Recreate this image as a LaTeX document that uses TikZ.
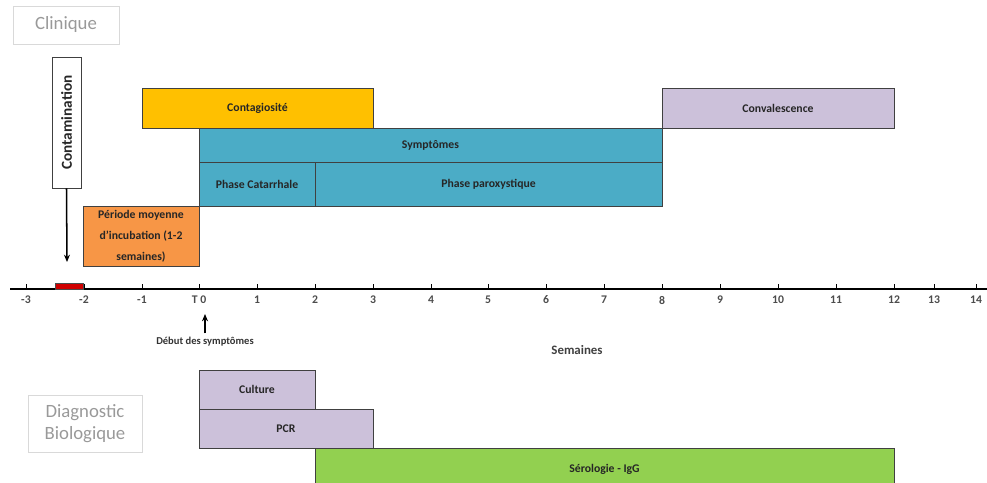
\documentclass[tikz,border=0pt]{standalone}
\usepackage{fontspec}
\setmainfont{Carlito}
\usepackage{tikz}
\usetikzlibrary{
  arrows.meta,
  positioning
}
\definecolor{contyellow}{HTML}{FFC000}
\definecolor{sympteal}{HTML}{4BACC6}
\definecolor{lavender}{HTML}{CCC1DA}
\definecolor{incuborange}{HTML}{F79646}
\definecolor{serogreen}{HTML}{92D050}
\definecolor{expored}{HTML}{D00000}

\begin{document}
\begin{tikzpicture}[
  x=0.03cm, y=-0.03cm,
  spanwh/.style 2 args={minimum width=#1*0.03cm, minimum height=#2*0.03cm},
  phase/.style={draw=black!75, line width=0.7pt, inner sep=0pt, font=\fontsize{10}{12}\selectfont\bfseries, text=black!85, align=center},
  tag/.style={draw=black!15, line width=0.8pt, inner sep=0pt, font=\fontsize{16}{19}\selectfont, text=black!40, align=center},
  ticklab/.style={font=\fontsize{10}{12}\selectfont\bfseries, text=black!70},
  arr/.style={-{Stealth[length=2.2mm, width=1.8mm]}, line width=1.3pt}
]
  \useasboundingbox (0,0) rectangle (987,483);

  % category labels
  \node[tag, spanwh={106}{38}] (clin) at (66,25) {Clinique};
  \node[tag, spanwh={114}{57}] (diag) at (85,423.5) {Diagnostic\\Biologique};

  % clinical course
  \node[phase, fill=contyellow, spanwh={231}{40}] (contag) at (257.5,108) {Contagiosité};
  \node[phase, fill=lavender, spanwh={232}{40}] (conval) at (778,108) {Convalescence};
  \node[phase, fill=sympteal, spanwh={463}{34}] (sympt) at (430.5,145) {Symptômes};
  \node[phase, fill=sympteal, spanwh={116}{44}] (catarr) at (257,184) {Phase Catarrhale};
  \node[phase, fill=sympteal, spanwh={347}{44}] (parox) at (488.5,184) {Phase paroxystique};
  \node[phase, fill=incuborange, spanwh={116}{60}, font=\fontsize{10}{18}\selectfont\bfseries] (incub) at (141,236) {Période moyenne\\d'incubation (1-2\\semaines)};

  \node[phase, fill=white, rotate=90, spanwh={131}{29}, font=\fontsize{13}{15}\selectfont\bfseries] (contam) at (66.5,122.5) {Contamination};
  \coordinate (contamend) at (67,262);
  \draw[arr] (contam.west) -- (contamend);

  % time axis
  \coordinate (axL) at (10,289);
  \coordinate (axR) at (987,289);
  \draw[line width=1.5pt] (axL) -- (axR);
  \foreach \x/\lab in {26/-3,84/-2,142/-1,199/T 0,257/1,315/2,373/3,431/4,488/5,546/6,604/7,662/8,720/9,778/10,836/11,894/12,934/13,976/14}{
    \draw[line width=0.6pt] (\x,289) -- (\x,284);
    \node[ticklab] (tick\x) at (\x,300) {\lab};
  }
  \node[draw=black!70, fill=expored, inner sep=0pt, line width=0.5pt, spanwh={28}{6}] (expo) at (69,286) {};

  \node[font=\fontsize{9}{11}\selectfont\bfseries, text=black!80] (debut) at (205,342) {Début des symptômes};
  \coordinate (t0up) at (205,314);
  \draw[arr] (debut.north) -- (t0up);
  \node[font=\fontsize{11}{13}\selectfont\bfseries, text=black!75] (weeks) at (577,350) {Semaines};

  % biological diagnosis
  \node[phase, fill=lavender, spanwh={116}{39}] (culture) at (257,389.5) {Culture};
  \node[phase, fill=lavender, spanwh={174}{39}] (pcr) at (286,428.5) {PCR};
  \node[phase, fill=serogreen, spanwh={579}{42}] (sero) at (604.5,469) {Sérologie - IgG};
\end{tikzpicture}
\end{document}
